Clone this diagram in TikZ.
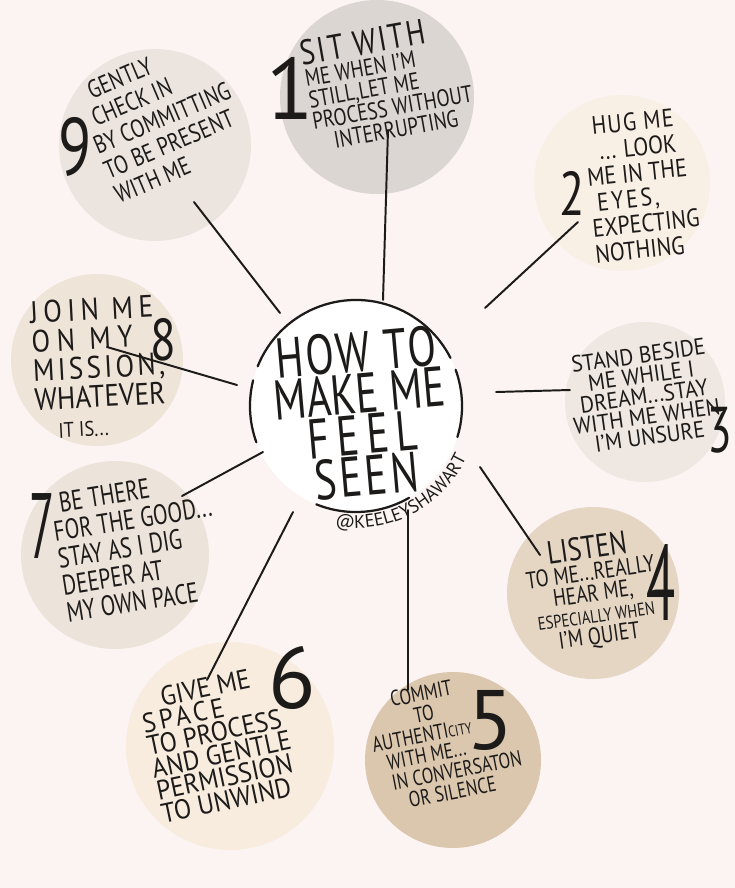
\documentclass[tikz,border=0pt]{standalone}
\usepackage{fontspec}
\setmainfont{PT Sans}
\usepackage{tikz}
\usetikzlibrary{decorations.text}
\definecolor{paper}{HTML}{FBF4F2}
\definecolor{ink}{HTML}{1D1B1A}
\definecolor{sandone}{HTML}{DCD6D3}
\definecolor{sandtwo}{HTML}{F8EFE5}
\definecolor{sandthree}{HTML}{EFE7E1}
\definecolor{sandfour}{HTML}{E5D6C4}
\definecolor{sandfive}{HTML}{DBC7AE}
\definecolor{sandsix}{HTML}{F7ECDE}
\definecolor{sandseven}{HTML}{ECE3DA}
\definecolor{sandeight}{HTML}{EFE4D8}
\definecolor{sandnine}{HTML}{ECE5DF}
\newcommand{\spaced}[2]{{\addfontfeature{LetterSpace=#1}#2}}

\begin{document}
\begin{tikzpicture}[x=0.025cm, y=-0.025cm,
    item/.style 2 args={text=ink, inner sep=0pt, align=left, font=\fontsize{#1}{#2}\selectfont},
    numeral/.style={text=ink, inner sep=0pt, font=\fontsize{#1}{#1}\selectfont},
    spoke/.style={ink, line width=1.4pt, line cap=round},
    rim/.style={ink, line width=1.6pt, line cap=round}]
    \useasboundingbox (0,0) rectangle (735,888);
    \fill[paper] (0,0) rectangle (735,888);
    % blobs behind the items
    \foreach \bx/\by/\br/\bc in {377/97/97/sandone, 622/183/88/sandtwo, 645/402/80/sandthree,
        593/593/86/sandfour, 453/760/88/sandfive, 230/746/104/sandsix,
        115/555/94/sandseven, 97/360/86/sandeight, 155/145/96/sandnine}
        \fill[\bc] (\bx,\by) circle (\br);
    \node[circle, fill=white, minimum size=5.3cm, inner sep=0pt, outer sep=0pt] (seen) at (356,406) {};
    \draw[rim] (seen.158) arc[start angle=158, end angle=27, radius=2.65cm];
    \draw[rim] (seen.166) arc[start angle=166, end angle=200, radius=2.65cm];
    \draw[rim] (seen.20) arc[start angle=20, end angle=-17, radius=2.65cm];
    \draw[rim] (seen.248) arc[start angle=248, end angle=300, radius=2.65cm];
    %\draw[rim] (seen) circle (106);
    \node[rotate=5, text=ink, inner sep=0pt, align=center, font=\fontsize{40}{29.5}\selectfont, xscale=0.74] (title) at (361,414)
        {\spaced{6}{HOW TO}\\MAKE ME\\F\kern7pt E\kern7pt E\kern7pt L\\S\kern3pt E\kern3pt E\kern3pt N};
    \path[decorate, decoration={text along path, text align=center,
        text={|\color{ink}\fontsize{13}{13}\selectfont|@KEELEYSHAWART}}]
        ([shift={(255:3.05cm)}]seen.center) arc[start angle=255, end angle=340, radius=3.05cm];

    % the nine items
    \node[rotate=10, item={17}{15.5}, xscale=0.8] (sit) at (388,82)
        {{\fontsize{25}{25}\selectfont\spaced{8}{SIT WITH}}\\ME WHEN I'M\\STILL,LET ME\\PROCESS WITHOUT\\\hspace*{16pt}INTERRUPTING};
    \node[rotate=6, item={18}{18.2}, xscale=0.86] (hug) at (642,185)
        {\hspace*{8pt}\spaced{6}{HUG ME}\\\hspace*{12pt}... LOOK\\ME IN THE\\\hspace*{6pt}\spaced{12}{EYES,}\\EXPECTING\\NOTHING};
    \node[rotate=8, item={16.5}{14.6}, xscale=0.92, align=center] (stand) at (644,396)
        {STAND BESIDE\\ME WHILE I\\DREAM...STAY\\WITH ME WHEN\\I'M UNSURE};
    \node[rotate=8, item={17}{15.2}, xscale=0.8, align=center] (listen) at (593,592)
        {{\fontsize{23}{23}\selectfont LISTEN}\\TO ME...REALLY\\HEAR ME,\\{\fontsize{13}{13}\selectfont ESPECIALLY WHEN}\\I'M QUIET};
    \node[rotate=11, item={15.5}{14.6}, xscale=0.78] (commit) at (445,741)
        {\hspace*{24pt}COMMIT\\\hspace*{42pt}TO\\AUTHENTI{\fontsize{11}{11}\selectfont CITY}\\\hspace*{10pt}WITH ME...\\\hspace*{11pt}IN CONVERSATON\\\hspace*{23pt}OR SILENCE};
    \node[rotate=12, item={19.5}{16.3}, xscale=0.92] (space) at (219,743)
        {\hspace*{18pt}GIVE ME\\\spaced{15}{SPACE}\\TO PROCESS\\AND GENTLE\\PERMISSION\\TO UNWIND};
    \node[rotate=9, item={20}{19.5}, xscale=0.76] (there) at (137,546)
        {\hspace*{9pt}BE THERE\\FOR THE GOOD...\\STAY AS I DIG\\DEEPER AT\\MY OWN PACE};
    \node[rotate=3, item={22}{20.6}, xscale=0.88] (join) at (99,367)
        {\spaced{20}{JOIN ME}\\\spaced{25}{ON MY}\\\spaced{12}{MISSION,}\\WHATEVER\\\hspace*{18pt}{\fontsize{15}{15}\selectfont IT IS...}};
    \node[rotate=23, item={18}{19}, xscale=0.8] (gently) at (162,118)
        {\hspace*{14pt}GENTLY\\\hspace*{8pt}CHECK IN\\BY COMMITTING\\TO BE PRESENT\\WITH ME};

    \node[numeral=62] (n1) at (290,88) {1};
    \node[numeral=44, xscale=0.75] (n2) at (572,193) {2};
    \node[numeral=46, xscale=0.7] (n3) at (720,430) {3};
    \node[numeral=76, xscale=0.5] (n4) at (661,582) {4};
    \node[numeral=60] (n5) at (490,720) {5};
    \node[numeral=62] (n6) at (292,678) {6};
    \node[numeral=66, xscale=0.5] (n7) at (42,526) {7};
    \node[numeral=42, xscale=0.8] (n8) at (163,340) {8};
    \node[numeral=58, xscale=0.75] (n9) at (75,147) {9};

    % spokes from the circle out to each item
    \coordinate (s1) at (383,300); \coordinate (t1) at (388,130);
    \coordinate (s2) at (485,308); \coordinate (t2) at (578,222);
    \coordinate (s3) at (496,392); \coordinate (t3) at (570,390);
    \coordinate (s4) at (480,467); \coordinate (t4) at (540,555);
    \coordinate (s5) at (408,510); \coordinate (t5) at (408,690);
    \coordinate (s6) at (293,512); \coordinate (t6) at (207,680);
    \coordinate (s7) at (263,452); \coordinate (t7) at (182,496);
    \coordinate (s8) at (237,385); \coordinate (t8) at (107,347);
    \coordinate (s9) at (280,313); \coordinate (t9) at (194,202);
    \foreach \i in {1,...,9}
        \draw[spoke] (s\i) -- (t\i);
\end{tikzpicture}
\end{document}
